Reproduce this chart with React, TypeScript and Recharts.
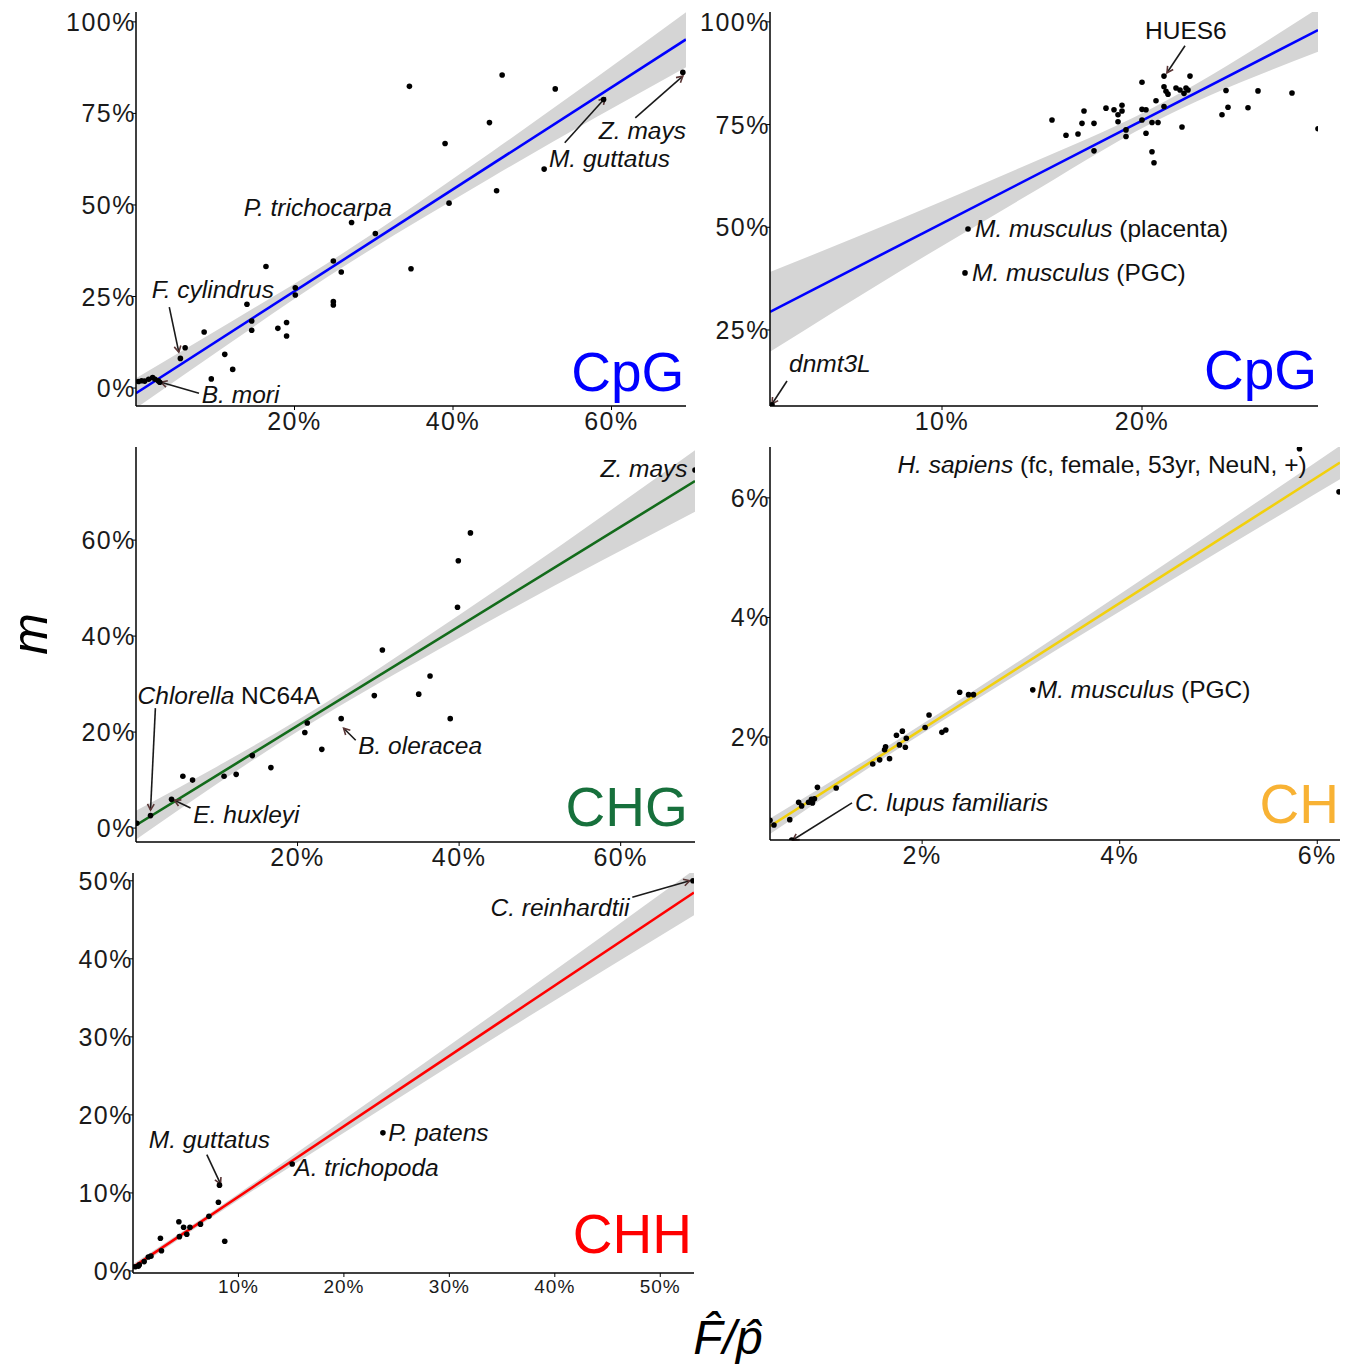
import React from 'react';
import { ComposedChart, XAxis, YAxis, Scatter, Line, Area, ReferenceDot, ReferenceLine } from 'recharts';

const FONT = '"Liberation Sans", Arial, Helvetica, sans-serif';

type P = [number, number];
type Part = [string, boolean];
type Lbl = { x: number; y: number; parts: Part[] };
type Arrow = [number, number, number, number];

// ---------- Panel 1: CpG (species) ----------
const cpgSpeciesPts: P[] = [
  [34.5, 82.4], [46.2, 85.5], [52.9, 81.7], [59.0, 78.8], [69.0, 86.2], [44.6, 72.5], [39.0, 66.8],
  [51.5, 59.8], [45.5, 53.9], [39.5, 50.5], [27.2, 45.2], [30.2, 42.2], [24.9, 34.7], [25.9, 31.7],
  [34.7, 32.6], [16.4, 33.2], [20.1, 27.4], [20.1, 25.4], [24.9, 23.6], [24.9, 22.7], [14.0, 22.9],
  [14.6, 18.3], [14.6, 15.8], [17.9, 16.3], [19.0, 17.9], [19.0, 14.2], [8.6, 15.3], [6.2, 11.0],
  [5.6, 8.1], [11.2, 9.2], [12.2, 5.1], [9.5, 2.5], [0.3, 1.8], [0.7, 2.0], [1.1, 1.9], [1.6, 2.4],
  [2.1, 2.9], [2.4, 2.4], [2.8, 2.0], [3.0, 1.6],
];
const cpgSpeciesFit: P[] = [[0, -1.4], [69.4, 95.2]];
const cpgSpeciesBandX = [0, 12, 24, 45, 69.4];
const cpgSpeciesBandLo = [-5.5, 12.5, 30.1, 57.7, 87.6];
const cpgSpeciesBandHi = [2.7, 18.1, 33.9, 64.7, 102.6];
const cpgSpeciesLabels: Lbl[] = [
  { x: 13.6, y: 47.0, parts: [['P. trichocarpa', true]] },
  { x: 2.0, y: 24.6, parts: [['F. cylindrus', true]] },
  { x: 8.3, y: -4.1, parts: [['B. mori', true]] },
  { x: 58.4, y: 68.0, parts: [['Z. mays', true]] },
  { x: 52.1, y: 60.4, parts: [['M. guttatus', true]] },
];
const cpgSpeciesArrows: Arrow[] = [
  [4.2, 22.1, 5.4, 9.8], [7.95, -1.4, 3.15, 1.6], [63.0, 73.8, 69.0, 85.2], [54.1, 67.0, 59.2, 79.2],
];

// ---------- Panel 2: CpG (mammals) ----------
const cpgMammalPts: P[] = [
  [15.5, 76.1], [16.2, 72.4], [16.8, 72.7], [17.1, 78.3], [17.0, 75.3], [17.6, 75.3], [17.6, 68.6],
  [18.2, 79.0], [18.6, 78.6], [18.8, 77.4], [19.0, 79.7], [19.0, 78.3], [18.8, 75.7], [19.2, 73.7],
  [19.2, 72.1], [20.0, 78.7], [20.2, 78.6], [20.0, 76.1], [20.2, 72.9], [20.5, 75.5], [20.8, 75.5],
  [20.5, 68.4], [20.6, 65.7], [20.0, 85.3], [20.7, 80.8], [21.1, 79.4], [21.1, 86.8], [21.1, 84.2],
  [21.2, 83.1], [21.3, 82.4], [21.7, 83.9], [21.9, 83.4], [22.1, 82.6], [22.2, 83.9], [22.3, 83.4],
  [22.4, 86.8], [22.0, 74.4], [24.2, 83.3], [24.3, 79.2], [24.0, 77.4], [25.3, 79.1], [25.8, 83.2],
  [27.5, 82.7], [28.8, 74.0], [11.3, 49.6], [11.15, 38.9], [1.5, 6.8],
];
const cpgMammalFit: P[] = [[1.4, 29.4], [28.8, 98.0]];
const cpgMammalBandX = [1.4, 8, 14, 20.5, 28.8];
const cpgMammalBandLo = [19.7, 39.6, 57.0, 75.4, 92.7];
const cpgMammalBandHi = [39.1, 52.2, 64.7, 79.0, 103.3];
const cpgMammalLabels: Lbl[] = [
  { x: 20.15, y: 95.9, parts: [['HUES6', false]] },
  { x: 11.65, y: 47.7, parts: [['M. musculus', true], [' (placenta)', false]] },
  { x: 11.5, y: 37.0, parts: [['M. musculus', true], [' (PGC)', false]] },
  { x: 2.35, y: 14.8, parts: [['dnmt3L', true]] },
];
const cpgMammalArrows: Arrow[] = [[22.15, 94.2, 21.25, 87.6], [2.25, 12.6, 1.5, 7.0]];

// ---------- Panel 3: CHG ----------
const chgPts: P[] = [
  [41.4, 61.5], [39.9, 55.7], [39.8, 46.0], [30.5, 37.1], [36.4, 31.7], [29.5, 27.6], [35.0, 27.9],
  [38.9, 22.8], [25.4, 22.8], [21.2, 21.9], [20.9, 19.9], [23.0, 16.4], [16.7, 12.6], [14.4, 15.1],
  [12.4, 11.2], [10.9, 10.8], [5.8, 10.8], [7.0, 10.0], [4.4, 6.0], [1.8, 2.6], [0.1, 1.0], [69.2, 74.6],
];
const chgFit: P[] = [[0, 0.6], [69.2, 72.3]];
const chgBandX = [0, 10, 20, 40, 69.2];
const chgBandLo = [-2.4, 9.2, 20.1, 39.6, 65.9];
const chgBandHi = [3.6, 12.8, 22.5, 44.4, 78.7];
const chgLabels: Lbl[] = [
  { x: 57.5, y: 73.1, parts: [['Z. mays', true]] },
  { x: 0.2, y: 25.8, parts: [['Chlorella', true], [' NC64A', false]] },
  { x: 7.1, y: 1.0, parts: [['E. huxleyi', true]] },
  { x: 27.5, y: 15.4, parts: [['B. oleracea', true]] },
];
const chgArrows: Arrow[] = [[2.4, 25.0, 1.8, 3.75], [6.75, 4.2, 4.75, 5.8], [27.2, 18.3, 25.7, 20.8]];

// ---------- Panel 4: CH ----------
const chPts: P[] = [
  [2.38, 2.75], [2.47, 2.71], [2.52, 2.71], [2.07, 2.37], [2.03, 2.16], [2.20, 2.08], [2.24, 2.12],
  [1.80, 2.10], [1.74, 2.03], [1.84, 1.98], [1.83, 1.83], [1.77, 1.87], [1.63, 1.84], [1.62, 1.79],
  [1.67, 1.64], [1.57, 1.62], [1.50, 1.55], [1.13, 1.15], [0.94, 1.16], [0.91, 0.97], [0.88, 0.96],
  [0.89, 0.90], [0.85, 0.91], [0.75, 0.91], [0.78, 0.85], [0.66, 0.62], [0.50, 0.53], [0.46, 0.61],
  [0.68, 0.28], [3.12, 2.79], [5.82, 6.82], [6.22, 6.10],
];
const chFit: P[] = [[0.46, 0.51], [6.23, 6.59]];
const chBandX = [0.46, 1.5, 3, 4.5, 6.23];
const chBandLo = [0.38, 1.53, 3.09, 4.60, 6.31];
const chBandHi = [0.64, 1.69, 3.29, 4.94, 6.87];
const chLabels: Lbl[] = [
  { x: 1.75, y: 6.42, parts: [['H. sapiens', true], [' (fc, female, 53yr, NeuN, +)', false]] },
  { x: 3.16, y: 2.65, parts: [['M. musculus', true], [' (PGC)', false]] },
  { x: 1.32, y: 0.76, parts: [['C. lupus familiaris', true]] },
];
const chArrows: Arrow[] = [[1.29, 0.90, 0.69, 0.28]];

// ---------- Panel 5: CHH ----------
const chhPts: P[] = [
  [53.1, 50.0], [23.7, 17.7], [15.1, 13.7], [8.2, 11.0], [8.1, 8.8], [7.2, 7.0], [6.4, 6.0],
  [4.35, 6.3], [4.8, 5.6], [5.4, 5.6], [5.1, 4.7], [4.4, 4.4], [8.7, 3.8], [2.6, 4.2], [2.7, 2.6],
  [1.7, 1.9], [1.45, 1.8], [1.06, 1.2], [0.5, 0.6], [0.2, 0.55], [0.6, 0.8],
];
const chhFit: P[] = [[0, 0.5], [53.2, 48.5]];
const chhBandX = [0, 10, 20, 35, 53.2];
const chhBandLo = [0.1, 9.1, 17.7, 30.5, 45.6];
const chhBandHi = [0.9, 9.9, 19.4, 33.7, 51.4];
const chhLabels: Lbl[] = [
  { x: 33.9, y: 45.5, parts: [['C. reinhardtii', true]] },
  { x: 24.2, y: 16.7, parts: [['P. patens', true]] },
  { x: 15.3, y: 12.2, parts: [['A. trichopoda', true]] },
  { x: 1.5, y: 15.8, parts: [['M. guttatus', true]] },
];
const chhArrows: Arrow[] = [[47.35, 47.9, 52.8, 50.0], [7.0, 14.9, 8.3, 11.15]];

interface PanelCfg {
  x0: number; y0: number; x1: number; y1: number;
  xDomain: [number, number]; yDomain: [number, number];
  xTicks: number[]; yTicks: number[]; xTickFs: number;
  bandX: number[]; bandLo: number[]; bandHi: number[];
  fit: P[]; points: P[]; lineColor: string;
  labels: Lbl[]; arrows: Arrow[];
  tag: string; tagColor: string; tagX: number; tagY: number;
}

const panels: PanelCfg[] = [
  {
    x0: 136, y0: 12, x1: 686, y1: 406, xDomain: [0, 69.4], yDomain: [-4.9, 102.7],
    xTicks: [20, 40, 60], yTicks: [0, 25, 50, 75, 100], xTickFs: 25,
    bandX: cpgSpeciesBandX, bandLo: cpgSpeciesBandLo, bandHi: cpgSpeciesBandHi,
    fit: cpgSpeciesFit, points: cpgSpeciesPts, lineColor: '#0000ff',
    labels: cpgSpeciesLabels, arrows: cpgSpeciesArrows,
    tag: 'CpG', tagColor: '#0000ff', tagX: 69.2, tagY: -0.8,
  },
  {
    x0: 770, y0: 12, x1: 1318, y1: 406, xDomain: [1.4, 28.8], yDomain: [6.5, 102.4],
    xTicks: [10, 20], yTicks: [25, 50, 75, 100], xTickFs: 25,
    bandX: cpgMammalBandX, bandLo: cpgMammalBandLo, bandHi: cpgMammalBandHi,
    fit: cpgMammalFit, points: cpgMammalPts, lineColor: '#0000ff',
    labels: cpgMammalLabels, arrows: cpgMammalArrows,
    tag: 'CpG', tagColor: '#0000ff', tagX: 28.75, tagY: 10.6,
  },
  {
    x0: 136, y0: 447, x1: 695, y1: 842, xDomain: [0, 69.2], yDomain: [-2.9, 79.4],
    xTicks: [20, 40, 60], yTicks: [0, 20, 40, 60], xTickFs: 25,
    bandX: chgBandX, bandLo: chgBandLo, bandHi: chgBandHi,
    fit: chgFit, points: chgPts, lineColor: '#136b1b',
    labels: chgLabels, arrows: chgArrows,
    tag: 'CHG', tagColor: '#17703c', tagX: 68.3, tagY: 0.4,
  },
  {
    x0: 770, y0: 447, x1: 1340, y1: 840, xDomain: [0.46, 6.23], yDomain: [0.28, 6.85],
    xTicks: [2, 4, 6], yTicks: [2, 4, 6], xTickFs: 25,
    bandX: chBandX, bandLo: chBandLo, bandHi: chBandHi,
    fit: chFit, points: chPts, lineColor: '#f2d00c',
    labels: chLabels, arrows: chArrows,
    tag: 'CH', tagColor: '#f8b234', tagX: 6.22, tagY: 0.56,
  },
  {
    x0: 133, y0: 873, x1: 694, y1: 1273, xDomain: [0, 53.2], yDomain: [-0.26, 51.0],
    xTicks: [10, 20, 30, 40, 50], yTicks: [0, 10, 20, 30, 40, 50], xTickFs: 19,
    bandX: chhBandX, bandLo: chhBandLo, bandHi: chhBandHi,
    fit: chhFit, points: chhPts, lineColor: '#ff0000',
    labels: chhLabels, arrows: chhArrows,
    tag: 'CHH', tagColor: '#ff0000', tagX: 53.0, tagY: 2.3,
  },
];

const YW = 80, XH = 40, MT = 12, MR = 30;

const dotShape = (p: any) => <circle cx={p.cx} cy={p.cy} r={2.8} fill="#000" />;

const arrowShape = (p: any) => {
  const { x1, y1, x2, y2 } = p;
  const ang = Math.atan2(y2 - y1, x2 - x1);
  const L = 7, W = 0.5;
  const a1x = x2 - L * Math.cos(ang - W), a1y = y2 - L * Math.sin(ang - W);
  const a2x = x2 - L * Math.cos(ang + W), a2y = y2 - L * Math.sin(ang + W);
  return (
    <g>
      <line x1={x1} y1={y1} x2={x2} y2={y2} stroke="#1a1a1a" strokeWidth={1.6} />
      <polyline points={`${a1x},${a1y} ${x2},${y2} ${a2x},${a2y}`} fill="none" stroke="#5a3535" strokeWidth={1.6} />
    </g>
  );
};

const labelShape = (parts: Part[]) => (p: any) => (
  <text x={p.cx} y={p.cy} fontSize={24.5} fontFamily={FONT} fill="#111">
    {parts.map(([t, it], i) => (
      <tspan key={i} fontStyle={it ? 'italic' : 'normal'} style={{ whiteSpace: 'pre' }}>{t}</tspan>
    ))}
  </text>
);

const tagShape = (text: string, color: string) => (p: any) => (
  <text x={p.cx} y={p.cy} fontSize={55} fontFamily={FONT} fill={color} textAnchor="end">{text}</text>
);

const yTick = (p: any) => (
  <text x={p.x + 4} y={p.y} dy="0.36em" textAnchor="end" fontSize={25} fontFamily={FONT} fill="#1a1a1a" letterSpacing={1.5}>
    {p.payload.value}%
  </text>
);
const xTick = (fs: number) => (p: any) => (
  <text x={p.x} y={p.y} dy="0.72em" textAnchor="middle" fontSize={fs} fontFamily={FONT} fill="#1a1a1a" letterSpacing={fs > 20 ? 1.5 : 1}>
    {p.payload.value}%
  </text>
);

function Panel({ c }: { c: PanelCfg }) {
  const plotW = c.x1 - c.x0;
  const plotH = c.y1 - c.y0;
  const bandRows = c.bandX.map((x, i) => ({ x, band: [c.bandLo[i], c.bandHi[i]] }));
  const fitRows = c.fit.map(([x, y]) => ({ x, y }));
  const pts = c.points.map(([x, y]) => ({ x, y }));
  return (
    <div style={{ position: 'absolute', left: c.x0 - YW, top: c.y0 - MT }}>
      <ComposedChart
        width={YW + plotW + MR}
        height={MT + plotH + XH}
        data={bandRows}
        margin={{ top: MT, right: MR, bottom: 0, left: 0 }}
      >
        <XAxis
          type="number" dataKey="x" domain={c.xDomain} allowDataOverflow ticks={c.xTicks} interval={0}
          height={XH} axisLine={{ stroke: '#000', strokeWidth: 1.5 }} tickLine={{ stroke: '#000', strokeWidth: 1 }}
          tickSize={4} tickMargin={2} tick={xTick(c.xTickFs)}
        />
        <YAxis
          type="number" domain={c.yDomain} allowDataOverflow ticks={c.yTicks} interval={0}
          width={YW} axisLine={{ stroke: '#000', strokeWidth: 1.5 }} tickLine={{ stroke: '#000', strokeWidth: 1 }}
          tickSize={4} tickMargin={0} tick={yTick}
        />
        <Area dataKey="band" type="monotone" stroke="none" fill="#d5d5d5" fillOpacity={1} isAnimationActive={false} />
        <Line data={fitRows} dataKey="y" type="linear" stroke={c.lineColor} strokeWidth={2.6} dot={false} activeDot={false} isAnimationActive={false} />
        <Scatter data={pts} dataKey="y" shape={dotShape} isAnimationActive={false} />
        {c.arrows.map((a, i) => (
          <ReferenceLine key={'a' + i} segment={[{ x: a[0], y: a[1] }, { x: a[2], y: a[3] }]} ifOverflow="visible" shape={arrowShape} />
        ))}
        {c.labels.map((l, i) => (
          <ReferenceDot key={'l' + i} x={l.x} y={l.y} r={1} ifOverflow="visible" shape={labelShape(l.parts)} />
        ))}
        <ReferenceDot x={c.tagX} y={c.tagY} r={1} ifOverflow="visible" shape={tagShape(c.tag, c.tagColor)} />
      </ComposedChart>
    </div>
  );
}

export default function App() {
  return (
    <div style={{ position: 'absolute', left: 0, top: 0, width: 1354, height: 1369, background: '#fff', fontFamily: FONT }}>
      {panels.map((c, i) => <Panel key={i} c={c} />)}
      <svg width={1354} height={1369} style={{ position: 'absolute', left: 0, top: 0, pointerEvents: 'none' }}>
        <text transform="translate(47,634) rotate(-90)" textAnchor="middle" fontSize={50} fontStyle="italic" fontFamily={FONT} fill="#000">m</text>
        <text x={728} y={1354} textAnchor="middle" fontSize={48} fontStyle="italic" fontFamily={FONT} fill="#000">F̂/p̂</text>
      </svg>
    </div>
  );
}
